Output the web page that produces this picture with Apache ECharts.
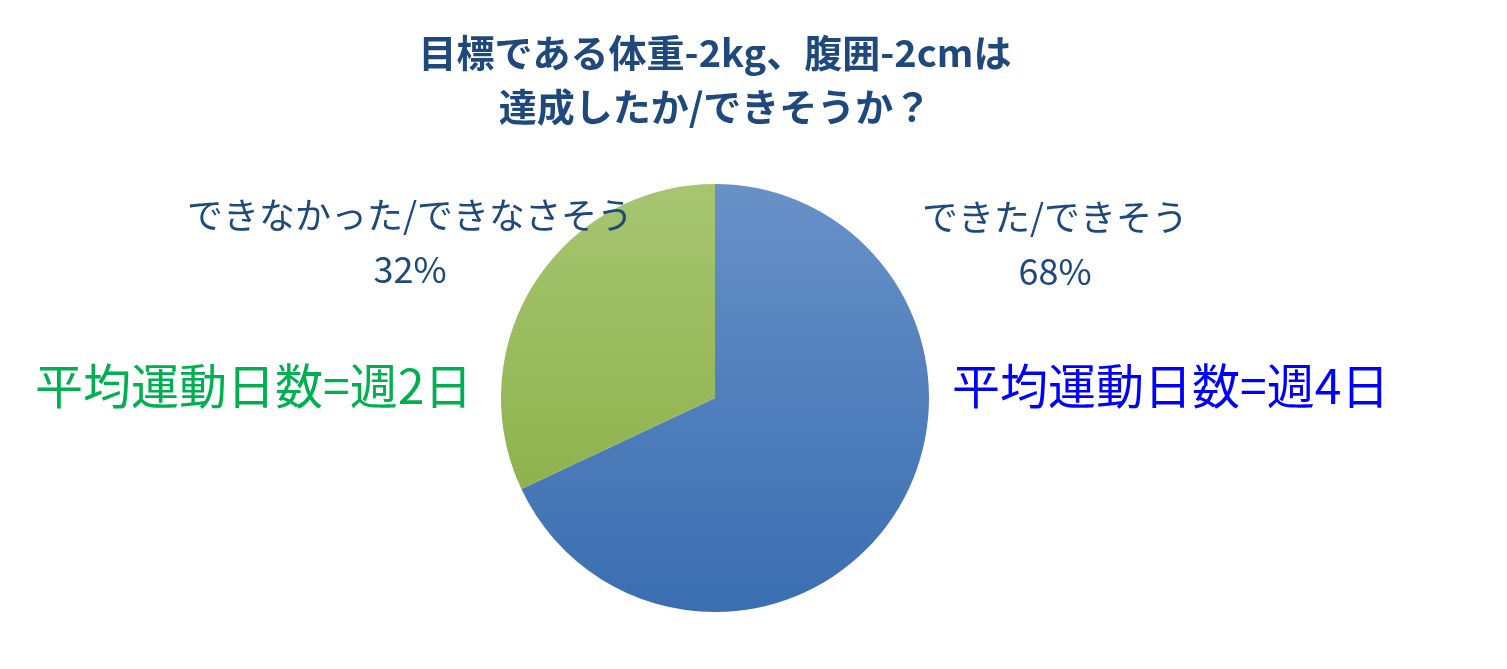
<!DOCTYPE html>
<html>
<head>
<meta charset="utf-8">
<script src="https://cdn.jsdelivr.net/npm/echarts@6/dist/echarts.min.js"></script>
<style>
html,body{margin:0;padding:0;background:#fff;}
#main{width:1507px;height:669px;}
</style>
</head>
<body>
<div id="main"></div>
<script>
const titleText = '目標である体重-2kg、腹囲-2cmは\n達成したか/できそうか？';
const categories = ['できた/できそう', 'できなかった/できなさそう'];
const values = [68, 32];
const noteTexts = ['平均運動日数=週4日', '平均運動日数=週2日'];

const FONT = '"Noto Sans CJK JP", "Noto Sans", sans-serif';
const chart = echarts.init(document.getElementById('main'));

const cx = 715, cy = 398, r = 214;
const blueGrad = new echarts.graphic.LinearGradient(0, cy - r, 0, cy + r, [
  {offset: 0, color: '#6891c7'}, {offset: 1, color: '#3a6db1'}
], true);
const greenGrad = new echarts.graphic.LinearGradient(0, cy - r, 0, cy + r, [
  {offset: 0, color: '#a7c571'}, {offset: 1, color: '#85ab3f'}
], true);
const fills = [blueGrad, greenGrad];
const labelPos = [[1055, 244], [410, 242]];

chart.setOption({
  animation: false,
  backgroundColor: '#ffffff',
  title: {
    text: titleText,
    left: 710,
    top: 21,
    textAlign: 'center',
    textStyle: {
      fontFamily: FONT,
      fontSize: 38,
      fontWeight: 'bold',
      color: '#1f497d',
      lineHeight: 54
    }
  },
  graphic: [
    {
      type: 'text',
      left: 952,
      top: 362,
      style: { text: noteTexts[0], fill: '#0000ff', font: '48px ' + FONT }
    },
    {
      type: 'text',
      left: 35,
      top: 362,
      style: { text: noteTexts[1], fill: '#00b050', font: '48px ' + FONT }
    }
  ],
  series: [{
    type: 'pie',
    center: [cx, cy],
    radius: r,
    startAngle: 90,
    clockwise: true,
    data: categories.map((c, i) => ({
      name: c,
      value: values[i],
      itemStyle: { color: fills[i] }
    })),
    label: {
      show: true,
      formatter: p => p.name + '\n' + p.value + '%',
      fontFamily: FONT,
      fontSize: 36,
      color: '#1f497d',
      lineHeight: 54,
      align: 'center'
    },
    labelLine: { show: false },
    labelLayout: function (params) {
      const pos = labelPos[params.dataIndex];
      return { x: pos[0], y: pos[1], align: 'center', verticalAlign: 'middle' };
    },
    emphasis: { disabled: true }
  }]
});
</script>
</body>
</html>
